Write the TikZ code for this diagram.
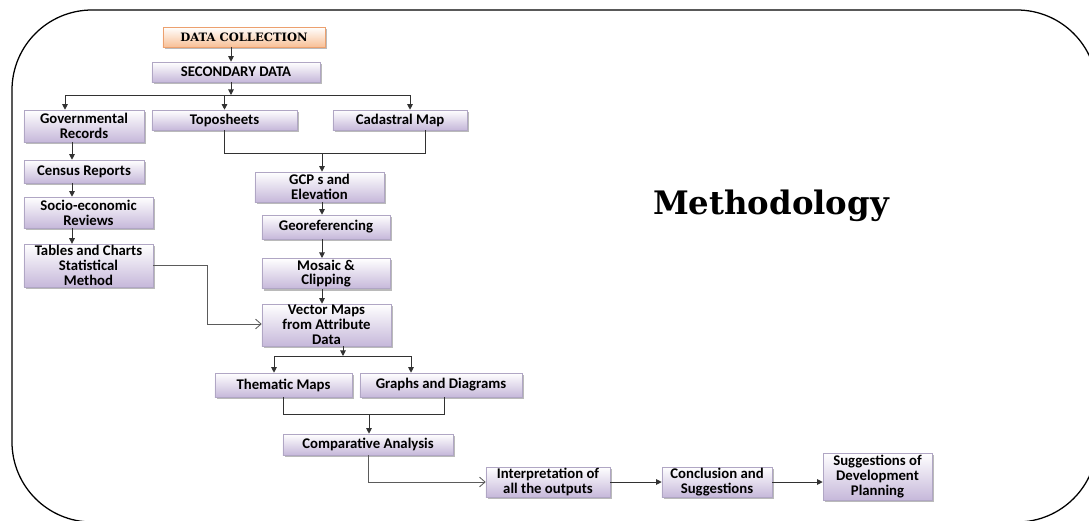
\documentclass[tikz,border=0pt]{standalone}
\usepackage{fontspec}
\newfontfamily\cfont{Carlito}
\newfontfamily\tfont{DejaVu Serif}
\usetikzlibrary{arrows.meta,shadows,calc}
\definecolor{lav}{RGB}{198,184,218}
\definecolor{lavline}{RGB}{176,166,196}
\definecolor{peach}{RGB}{248,192,150}
\definecolor{peachline}{RGB}{236,160,110}
\definecolor{linegray}{RGB}{50,50,50}
\tikzset{stage/.style={draw=lavline, top color=white, bottom color=lav, inner sep=1pt, align=center, font=\cfont\bfseries\fontsize{10.5}{10.5}\selectfont, drop shadow={shadow xshift=1.5pt, shadow yshift=-1.5pt, fill=black!45, opacity=0.6}}}
\tikzset{head/.style={stage, draw=peachline, bottom color=peach, font=\tfont\bfseries\fontsize{8.2}{9}\selectfont}}
\tikzset{wire/.style={draw=linegray, line width=0.7pt}}
\tikzset{arr/.style={wire, -{Triangle[length=4pt,width=4pt]}}}
\tikzset{oarr/.style={draw=linegray!80, line width=0.6pt, -{Straight Barb[length=4pt,width=7pt]}}}

\begin{document}
\begin{tikzpicture}[x=0.025cm, y=-0.025cm]
\useasboundingbox (0,0) rectangle (1089,520);
\draw[line width=0.9pt, rounded corners=2cm] (12,10) rectangle (1097,522);

\node (datacol) at (244,37) [head, minimum width=4.05cm, minimum height=0.5cm] {DATA COLLECTION};
\node (secdata) at (236,72) [stage, minimum width=4.2cm, minimum height=0.5cm] {SECONDARY DATA};
\node (govt) at (84,126) [stage, minimum width=3cm, minimum height=0.8cm] {Governmental\\Records};
\node (topo) at (224.5,120) [stage, minimum width=3.625cm, minimum height=0.5cm] {Toposheets};
\node (cadas) at (400,120) [stage, minimum width=3.35cm, minimum height=0.5cm] {Cadastral Map};
\node (census) at (84,171.5) [stage, minimum width=3cm, minimum height=0.575cm] {Census Reports};
\node (socio) at (88.5,212.5) [stage, minimum width=3.225cm, minimum height=0.775cm] {Socio-economic\\Reviews};
\node (tables) at (88.5,265.5) [stage, minimum width=3.225cm, minimum height=0.975cm] {Tables and Charts\\Statistical\\Method};
\node (gcp) at (319.5,187) [stage, minimum width=3.225cm, minimum height=0.75cm] {GCP s and\\Elevation};
\node (georef) at (326,227) [stage, minimum width=3.2cm, minimum height=0.6cm] {Georeferencing};
\node (mosaic) at (326,273.5) [stage, minimum width=3.2cm, minimum height=0.675cm] {Mosaic \&\\Clipping};
\node (vector) at (326.5,325) [stage, minimum width=3.225cm, minimum height=1.025cm] {Vector Maps\\from Attribute\\Data};
\node (thematic) at (283.5,385) [stage, minimum width=3.425cm, minimum height=0.6cm] {Thematic Maps};
\node (graphs) at (441,385) [stage, minimum width=4.05cm, minimum height=0.6cm] {Graphs and Diagrams};
\node (compar) at (368,444.5) [stage, minimum width=4.25cm, minimum height=0.525cm] {Comparative Analysis};
\node (interp) at (548,482) [stage, minimum width=3.1cm, minimum height=0.75cm] {Interpretation of\\all the outputs};
\node (concl) at (717,482) [stage, minimum width=2.75cm, minimum height=0.75cm] {Conclusion and\\Suggestions};
\node (sugg) at (877.5,476.5) [stage, minimum width=2.725cm, minimum height=1.175cm] {Suggestions of\\Development\\Planning};
\node (title) at (771,206) [font=\tfont\bfseries\fontsize{23}{28}\selectfont] {Methodology};

\coordinate (s1) at (231,95);
\coordinate (s1l) at (65,95);
\coordinate (s1r) at (410,95);
\coordinate (j1) at (322,153);
\coordinate (j1r) at (425,153);
\coordinate (lcol) at (72,150);
\coordinate (mcol) at (322,200);
\coordinate (bend1) at (207,324);
\coordinate (s2) at (343,356);
\coordinate (s2l) at (274,356);
\coordinate (s2r) at (411,356);
\coordinate (j2) at (369,414);
\coordinate (j2r) at (444,414);

\draw[arr] (datacol.south -| s1) -- (secdata.north -| s1);
\draw[arr] (secdata.south -| s1) -- (s1);
\draw[wire] (s1l) -- (s1r);
\draw[arr] (s1l) -- (s1l |- govt.north);
\draw[arr] (topo.north |- s1) -- (topo.north);
\draw[arr] (s1r) -- (s1r |- cadas.north);
\draw[wire] (topo.south) |- (j1r) -- (j1r |- cadas.south);
\draw[arr] (j1) -- (j1 |- gcp.north);

\draw[arr] (govt.south -| lcol) -- (census.north -| lcol);
\draw[arr] (census.south -| lcol) -- (socio.north -| lcol);
\draw[arr] (socio.south -| lcol) -- (tables.north -| lcol);

\draw[arr] (gcp.south -| mcol) -- (georef.north -| mcol);
\draw[arr] (georef.south -| mcol) -- (mosaic.north -| mcol);
\draw[arr] (mosaic.south -| mcol) -- (vector.north -| mcol);
\draw[oarr] (tables.east) -| (bend1) -- (bend1 -| vector.west);

\draw[arr] (vector.south -| s2) -- (s2);
\draw[wire] (s2l) -- (s2r);
\draw[arr] (s2l) -- (s2l |- thematic.north);
\draw[arr] (s2r) -- (s2r |- graphs.north);
\draw[wire] (thematic.south) |- (j2r) -- (j2r |- graphs.south);
\draw[arr] (j2) -- (j2 |- compar.north);

\draw[oarr] (compar.south) |- (interp.west);
\draw[arr] (interp.east) -- (concl.west);
\draw[arr] (concl.east) -- (concl.east -| sugg.west);
\end{tikzpicture}
\end{document}
